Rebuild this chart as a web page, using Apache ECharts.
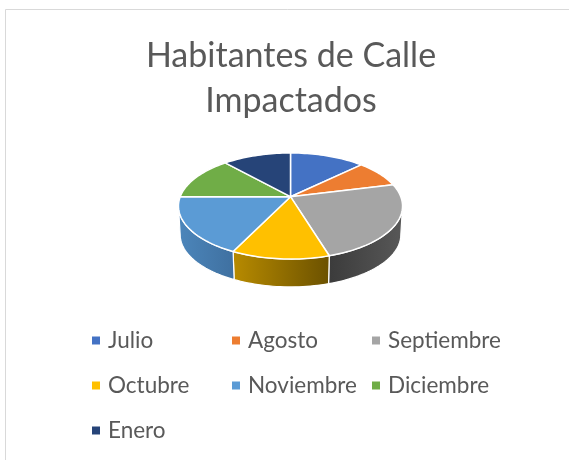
<!DOCTYPE html>
<html>
<head>
<meta charset="utf-8">
<style>html,body{margin:0;padding:0;background:#fff}#c{width:569px;height:460px}</style>
<script src="https://cdn.jsdelivr.net/npm/echarts@6/dist/echarts.min.js"></script>
</head>
<body>
<div id="c"></div>
<script>
const titleText = 'Habitantes de Calle\nImpactados';
const months = ['Julio','Agosto','Septiembre','Octubre','Noviembre','Diciembre','Enero'];
const values = [46,30,87,43,64,48,42];
const topColors = ['#4472c4','#ed7d31','#a5a5a5','#ffc000','#5b9bd5','#70ad47','#264478'];
const wallFrom = ['#2f5597','#ae5a21','#3b3b3b','#b88b00','#4c86bb','#507e32','#1b3156'];
const wallTo = ['#2f5597','#ae5a21','#585858','#6b5100','#3f70a0','#507e32','#1b3156'];
const legendCols = [['Julio','Octubre','Enero'],['Agosto','Noviembre'],['Septiembre','Diciembre']];
const legendLeft = [92,232,372];

const total = values.reduce((a,b)=>a+b,0);
const starts = []; values.reduce((s,v,i)=>{starts[i]=s;return s+v;},0);

// tilted-disc projection with mild perspective
const P = {cx:290.5, cy:196.7, a:51.4, b:110.3, k:0.1755, depth:29, shrink:0.985,
           wallMin:100*Math.PI/180, wallMax:260*Math.PI/180};
function proj(t, r, dy){
  const x = r*Math.sin(t), z = r*Math.cos(t), w = 1+P.k*z;
  return [P.cx + P.b*x/w, P.cy - P.a*z/w + (dy||0)];
}
function arc(t0,t1,r,dy){
  const n = Math.max(2,Math.ceil((t1-t0)/0.03)), pts=[];
  for(let i=0;i<=n;i++) pts.push(proj(t0+(t1-t0)*i/n,r,dy));
  return pts;
}
function renderer(i){
  return function(params, api){
    const t0 = starts[i]/total*2*Math.PI;
    const t1 = (starts[i]+api.value(0))/total*2*Math.PI;
    const children = [];
    const a = Math.max(t0,P.wallMin), b = Math.min(t1,P.wallMax);
    if (b>a){
      const topEdge = arc(a,b,1,0), botEdge = arc(a,b,P.shrink,P.depth).reverse();
      children.push({type:'polygon', z2:1, shape:{points:topEdge.concat(botEdge)},
        style:{fill:new echarts.graphic.LinearGradient(0,0,1,0,[
          {offset:0,color:wallFrom[i]},{offset:1,color:wallTo[i]}]),
          stroke:'#ffffff',lineWidth:1.2,lineJoin:'round'}});
    }
    children.push({type:'polygon', z2:2,
      shape:{points:[proj(0,0,0)].concat(arc(t0,t1,1,0))},
      style:{fill:topColors[i],stroke:'#ffffff',lineWidth:1.5,lineJoin:'round'}});
    return {type:'group',children};
  };
}
const series = months.map((m,i)=>({
  type:'custom', name:m, coordinateSystem:'none', animation:false, silent:true,
  itemStyle:{color:topColors[i]}, data:[[values[i]]], renderItem:renderer(i)
}));
const legend = legendCols.map((col,i)=>({
  data:col, orient:'vertical', left:legendLeft[i], top:328, padding:0, itemGap:20,
  icon:'rect', itemWidth:8, itemHeight:8, selectedMode:false,
  textStyle:{fontFamily:'Lato',fontSize:22.5,color:'#595959',padding:[0,0,0,3],lineHeight:25}
}));
const chart = echarts.init(document.getElementById('c'),null,{renderer:'canvas'});
chart.setOption({
  backgroundColor:'#ffffff', animation:false,
  title:{text:titleText,left:286,top:29,textAlign:'center',
    textStyle:{fontFamily:'Lato',fontSize:34,fontWeight:'normal',color:'#595959',lineHeight:45}},
  legend, series,
  graphic:[{type:'polyline',silent:true,z:-1,shape:{points:[[5.5,470],[5.5,9.5],[580,9.5]]},
    style:{stroke:'#d9d9d9',lineWidth:1,fill:null}}]
});
</script>
</body>
</html>
